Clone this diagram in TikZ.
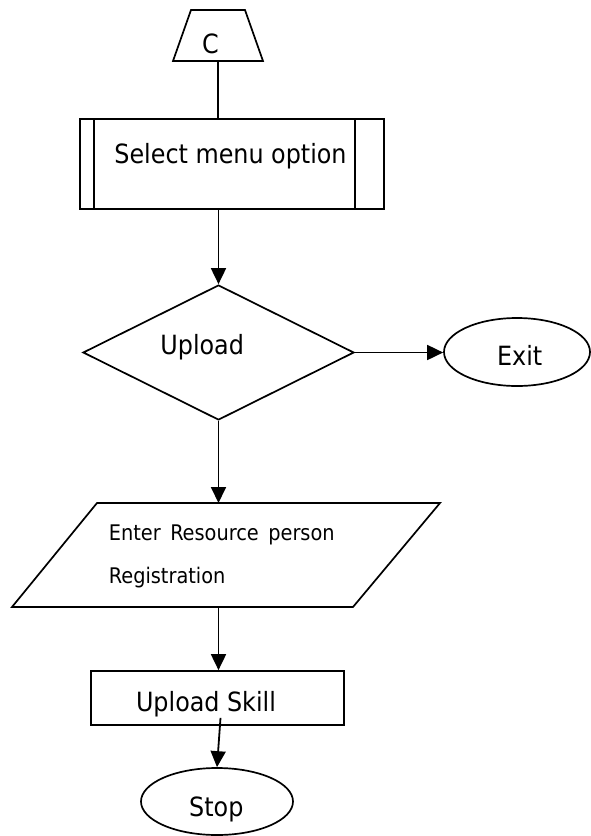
\documentclass[tikz,border=0pt]{standalone}
\usepackage{fontspec}
\setmainfont{DejaVu Sans Condensed}
\usetikzlibrary{shapes.geometric,arrows.meta}
\begin{document}
\begin{tikzpicture}[x=1pt,y=-1pt,line width=1.7pt,
  box/.style={draw,inner sep=0pt},
  frame/.style={inner sep=0pt,outer sep=0pt},
  bigtxt/.style={inner sep=0pt,anchor=base,font=\fontsize{26.5}{30}\selectfont},
  smalltxt/.style={inner sep=0pt,anchor=base west,font=\fontsize{21.5}{24}\selectfont},
  arr/.style={line width=1.8pt,-{Triangle[length=16pt,width=15pt]}}]
\fill[white] (0,0) rectangle (590,836);
\useasboundingbox (0,0) rectangle (590,836);
% shapes
\node[frame,minimum width=90pt,minimum height=51pt] (c) at (218,35.5) {};
\draw ([xshift=18pt]c.north west) -- ([xshift=-18pt]c.north east) -- (c.south east) -- (c.south west) -- cycle;
\node[box,minimum width=304pt,minimum height=90pt] (sel) at (232,164) {};
\draw ([xshift=15pt]sel.north west) -- ([xshift=15pt]sel.south west);
\draw ([xshift=-30pt]sel.north east) -- ([xshift=-30pt]sel.south east);
\node[box,diamond,minimum width=271pt,minimum height=135pt] (d) at (218.5,352.5) {};
\node[box,ellipse,minimum width=146pt,minimum height=68pt] (exit) at (517,352) {};
\node[frame,minimum width=428pt,minimum height=104pt] (par) at (226,555) {};
\draw ([xshift=85pt]par.north west) -- (par.north east) -- ([xshift=-87pt]par.south east) -- (par.south west) -- cycle;
\node[box,minimum width=253pt,minimum height=54pt] (skill) at (217.5,698) {};
\node[box,ellipse,minimum width=152pt,minimum height=67pt] (stop) at (217,801.5) {};
% texts
\node[bigtxt] (tc) at (210.5,53.3) {C};
\node[bigtxt] (tsel) at (230.5,163.3) {Select menu option};
\node[bigtxt] (tup) at (202.2,354.3) {Upload};
\node[bigtxt] (tex) at (519.7,365) {Exit};
\node[smalltxt] (ten) at (108,540) {Enter\hspace{9.5pt}Resource\hspace{9.5pt}person};
\node[smalltxt] (treg) at (108,583.3) {Registration};
\node[bigtxt] (tsk) at (206,711.7) {Upload Skill};
\node[bigtxt] (tst) at (216.3,816.7) {Stop};
% connectors
\draw (c.south) -- (c.south |- sel.north);
\draw[arr] (d.north |- sel.south) -- (d.north);
\draw[arr] (d.east) -- (d.east -| exit.west);
\draw[arr] (d.south) -- (d.south |- par.north);
\draw[arr] (par.south -| d.south) -- (skill.north -| d.south);
\draw[arr] ([xshift=3pt,yshift=8pt]skill.south) -- (stop.north);
\end{tikzpicture}
\end{document}
